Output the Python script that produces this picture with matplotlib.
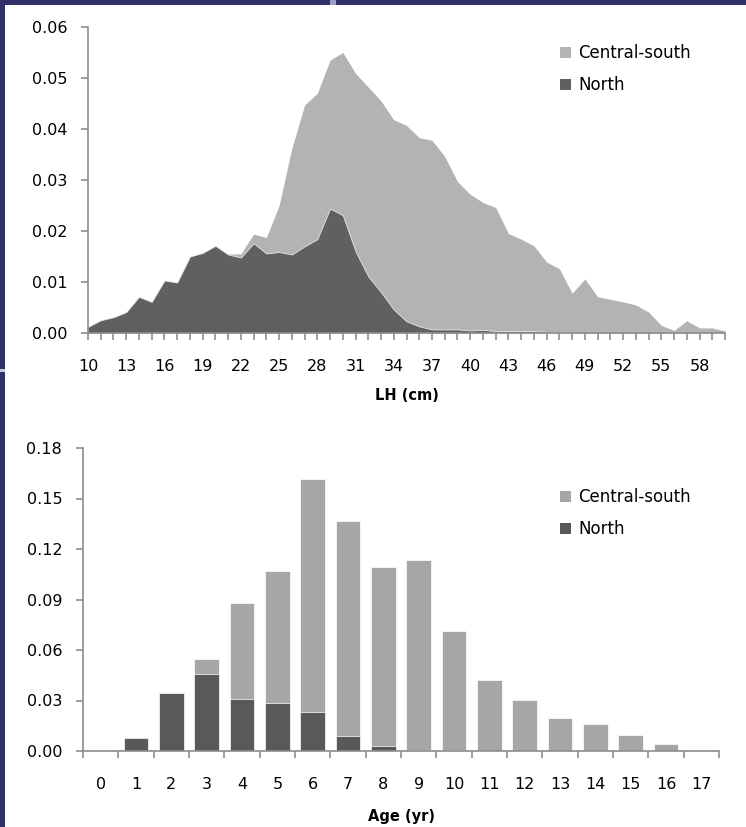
import matplotlib.pyplot as plt
import matplotlib.patches as mpatches
import numpy as np

# length distribution (LH, cm)
lh = list(range(10, 61))
lh_central_south = [
    0.0000, 0.0002, 0.0004, 0.0006, 0.0010, 0.0015, 0.0025, 0.0040, 0.0060, 0.0090,
    0.0120, 0.0155, 0.0155, 0.0194, 0.0187, 0.0250, 0.0362, 0.0447, 0.0470, 0.0535,
    0.0550, 0.0509, 0.0482, 0.0455, 0.0418, 0.0407, 0.0383, 0.0378, 0.0346, 0.0297,
    0.0272, 0.0256, 0.0246, 0.0195, 0.0184, 0.0171, 0.0139, 0.0126, 0.0078, 0.0106,
    0.0071, 0.0066, 0.0061, 0.0055, 0.0041, 0.0015, 0.0005, 0.0024, 0.0010, 0.0010,
    0.0004,
]
lh_north = [
    0.0012, 0.0025, 0.0031, 0.0041, 0.0071, 0.0061, 0.0103, 0.0099, 0.0150, 0.0157,
    0.0171, 0.0154, 0.0148, 0.0176, 0.0156, 0.0159, 0.0154, 0.0170, 0.0184, 0.0244,
    0.0231, 0.0160, 0.0111, 0.0080, 0.0046, 0.0023, 0.0013, 0.0007, 0.0007, 0.0007,
    0.0005, 0.0006, 0.0004, 0.0004, 0.0004, 0.0004, 0.0002, 0.0002, 0.0000, 0.0000,
    0.0000, 0.0000, 0.0000, 0.0000, 0.0000, 0.0000, 0.0000, 0.0000, 0.0000, 0.0000,
    0.0000,
]

# age distribution (yr)
ages = list(range(0, 18))
age_central_south = [0.0, 0.0078, 0.0345, 0.0547, 0.0878, 0.1069, 0.1616, 0.1366, 0.1095,
                     0.1134, 0.0712, 0.0422, 0.0303, 0.0198, 0.0159, 0.0093, 0.0044, 0.0]
age_north = [0.0, 0.0075, 0.0345, 0.0456, 0.0309, 0.0288, 0.0232, 0.0089, 0.0030,
             0.0008, 0.0005, 0.0, 0.0, 0.0, 0.0, 0.0, 0.0, 0.0]

light_area = "#b3b3b3"
dark_area = "#606060"
light_bar = "#a6a6a6"
dark_bar = "#595959"
spine_col = "#8c8c8c"

plt.rcParams["font.family"] = ["DejaVu Sans"]

W, H = 746, 827
fig = plt.figure(figsize=(W / 100, H / 100), dpi=100, facecolor="#2f3068")
# white slide panel, plus the two small light streaks in the dark border
fig.patches.append(mpatches.Rectangle((5 / W, 0), 1, 1 - 5 / H, transform=fig.transFigure,
                                      facecolor="white", edgecolor="none", zorder=-10))
fig.patches.append(mpatches.Rectangle((0, 1 - 372 / H), 5 / W, 3 / H, transform=fig.transFigure,
                                      facecolor="#c9c9dd", edgecolor="none", zorder=-9))
fig.patches.append(mpatches.Rectangle((330 / W, 1 - 5 / H), 6 / W, 5 / H, transform=fig.transFigure,
                                      facecolor="#9a9cc4", edgecolor="none", zorder=-9))


def style_axes(ax):
    for s in ["top", "right"]:
        ax.spines[s].set_visible(False)
    for s in ["left", "bottom"]:
        ax.spines[s].set_color(spine_col)
        ax.spines[s].set_linewidth(1.2)
    ax.tick_params(axis="y", direction="out", length=5, width=1.2, color=spine_col,
                   labelsize=11.5, pad=10)
    ax.set_facecolor("none")


def add_legend(ax, c1, c2, y_top):
    handles = [mpatches.Patch(facecolor=c1, edgecolor="none", label="Central-south"),
               mpatches.Patch(facecolor=c2, edgecolor="none", label="North")]
    ax.legend(handles=handles, loc="upper left", bbox_to_anchor=(560 / W, 1 - y_top / H),
              bbox_transform=fig.transFigure, frameon=False, fontsize=12,
              handlelength=0.65, handleheight=0.65, handletextpad=0.45,
              labelspacing=0.85, borderpad=0, borderaxespad=0)


# ---- top: length ----
ax1 = fig.add_axes([88 / W, 1 - 333 / H, (725 - 88) / W, (333 - 27) / H])
ax1.fill_between(lh, lh_central_south, 0, color=light_area, lw=0)
ax1.fill_between(lh, lh_north, 0, facecolor=dark_area, edgecolor="#e8e8e8", lw=0.6)
ax1.set_xlim(10, 60)
ax1.set_ylim(0, 0.06)
ax1.set_yticks(np.arange(0, 0.061, 0.01))
ax1.set_yticklabels([f"{v:.2f}" for v in np.arange(0, 0.061, 0.01)])
ax1.set_xticks(lh, minor=True)
ax1.set_xticks(lh[::3])
ax1.set_xticklabels([str(v) for v in lh[::3]])
ax1.tick_params(axis="x", which="both", direction="out", length=5, width=1.2,
                color=spine_col, labelsize=11.5, pad=14)
style_axes(ax1)
ax1.set_xlabel("LH (cm)", fontsize=10.5, fontweight="bold", labelpad=10)
add_legend(ax1, light_area, dark_area, 44)

# ---- bottom: age ----
ax2 = fig.add_axes([83 / W, 1 - 751 / H, (719 - 83) / W, (751 - 448) / H])
ax2.bar(ages, age_central_south, width=0.7, color=light_bar, edgecolor="white", lw=0.5)
ax2.bar(ages, age_north, width=0.7, color=dark_bar, edgecolor="white", lw=0.5)
ax2.set_xlim(-0.5, 17.5)
ax2.set_ylim(0, 0.18)
ax2.set_yticks(np.arange(0, 0.181, 0.03))
ax2.set_yticklabels([f"{v:.2f}" for v in np.arange(0, 0.181, 0.03)])
ax2.set_xticks(np.arange(-0.5, 18, 1), minor=True)
ax2.set_xticks(ages)
ax2.set_xticklabels([str(a) for a in ages])
ax2.tick_params(axis="x", which="minor", direction="out", length=5, width=1.2, color=spine_col)
ax2.tick_params(axis="x", which="major", length=0, labelsize=11.5, pad=19)
style_axes(ax2)
ax2.set_xlabel("Age (yr)", fontsize=10.5, fontweight="bold", labelpad=12)
add_legend(ax2, light_bar, dark_bar, 488)

fig.savefig("out.png", dpi=100, facecolor=fig.get_facecolor())
